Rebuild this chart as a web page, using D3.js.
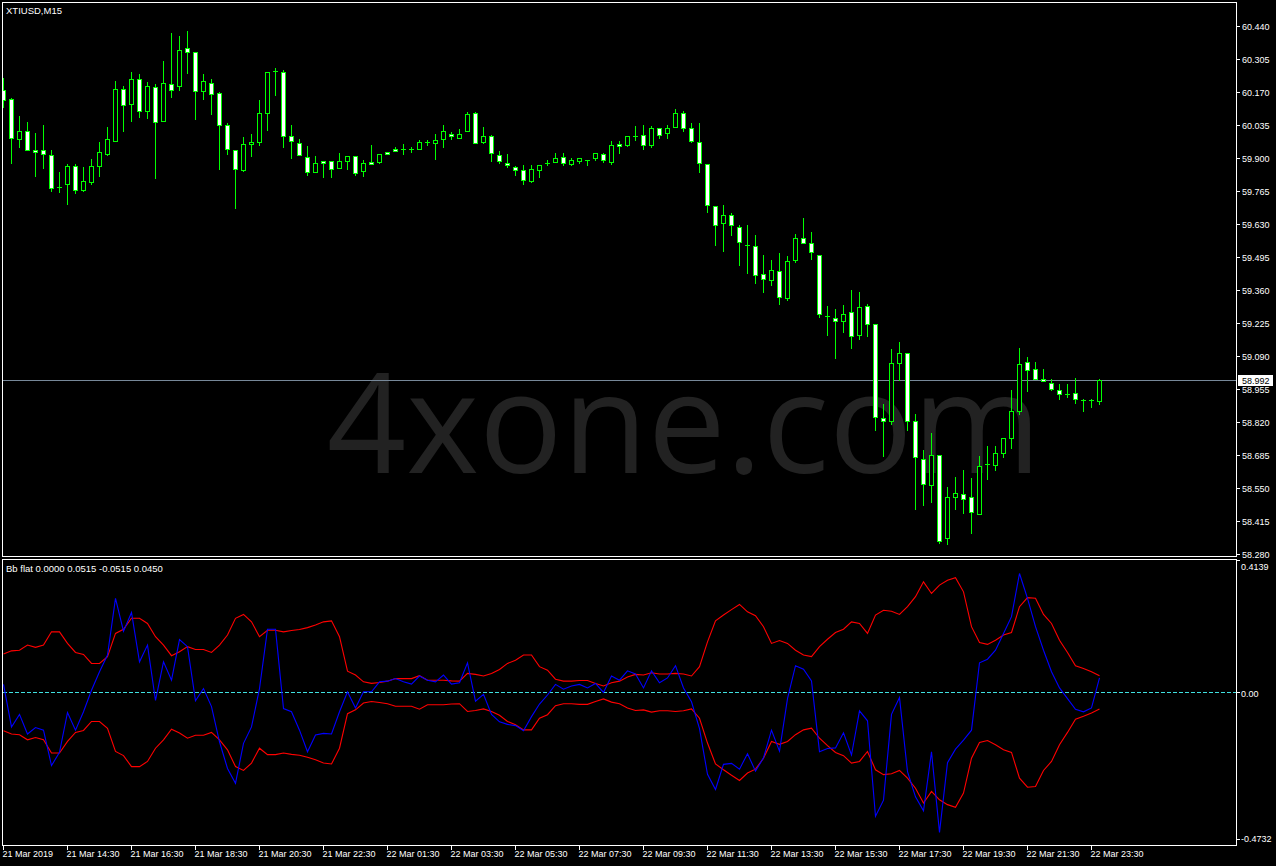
<!DOCTYPE html>
<html><head><meta charset="utf-8">
<script src="https://cdn.jsdelivr.net/npm/d3@7"></script>
<style>html,body{margin:0;padding:0;background:#000;overflow:hidden}</style>
</head><body><svg id="c" width="1276" height="866"></svg>
<script>
// ---- DATA ----
const symbolTitle = "XTIUSD,M15";
const indicatorTitle = "Bb flat 0.0000 0.0515 -0.0515 0.0450";
const open  = [60.178,60.140,59.977,60.009,59.932,59.932,59.911,59.781,59.792,59.866,59.770,59.803,59.869,59.918,59.968,60.181,60.120,60.222,60.091,60.189,60.050,60.202,60.193,60.349,60.332,60.173,60.206,60.165,60.034,59.932,59.852,59.956,59.964,60.083,60.255,60.251,59.989,59.960,59.903,59.842,59.887,59.887,59.858,59.887,59.907,59.846,59.882,59.882,59.923,59.936,59.936,59.936,59.936,59.964,59.960,59.977,59.997,59.981,60.009,60.083,59.964,59.989,59.911,59.878,59.862,59.850,59.805,59.850,59.878,59.882,59.903,59.874,59.887,59.891,59.899,59.915,59.882,59.956,59.952,59.992,59.993,59.952,60.021,60.001,60.026,60.083,60.021,59.964,59.874,59.702,59.633,59.666,59.617,59.545,59.539,59.425,59.402,59.437,59.329,59.481,59.572,59.551,59.502,59.252,59.244,59.232,59.269,59.177,59.293,59.220,58.835,58.823,59.060,59.101,58.823,58.667,58.561,58.684,58.344,58.512,58.524,58.512,58.442,58.648,58.643,58.692,58.753,58.864,59.064,59.036,58.995,58.978,58.950,58.933,58.937,58.909,58.909,58.905];
const high  = [60.226,60.144,60.072,60.047,60.001,60.035,59.932,59.843,59.874,59.874,59.863,59.895,59.965,60.027,60.215,60.193,60.252,60.244,60.210,60.202,60.297,60.411,60.399,60.420,60.332,60.244,60.222,60.169,60.042,59.932,59.986,59.997,60.137,60.251,60.267,60.259,60.034,59.977,59.949,59.907,59.887,59.887,59.919,59.907,59.907,59.891,59.953,59.915,59.923,59.944,59.956,59.945,59.972,59.975,59.997,60.035,60.005,60.017,60.087,60.087,60.026,59.993,59.927,59.915,59.866,59.870,59.870,59.870,59.891,59.919,59.919,59.899,59.899,59.891,59.919,59.919,59.968,59.968,59.989,60.030,60.034,60.030,60.021,60.034,60.099,60.091,60.042,60.042,59.874,59.702,59.707,59.674,59.625,59.625,59.584,59.502,59.481,59.510,59.498,59.588,59.653,59.596,59.502,59.293,59.281,59.297,59.359,59.351,59.302,59.220,58.892,59.117,59.146,59.101,58.852,58.704,58.774,58.684,58.553,58.594,58.622,58.590,58.680,58.721,58.721,58.753,58.950,59.122,59.085,59.064,59.036,58.995,58.974,58.974,58.999,58.913,58.913,58.995];
const low   = [60.110,59.881,59.944,59.932,59.828,59.860,59.766,59.762,59.713,59.756,59.766,59.795,59.828,59.912,59.968,60.012,60.053,60.068,60.064,59.819,60.050,60.151,60.177,60.247,60.061,60.143,60.081,59.856,59.915,59.694,59.846,59.907,59.952,60.013,60.158,59.944,59.899,59.911,59.829,59.842,59.824,59.824,59.858,59.854,59.829,59.825,59.874,59.878,59.915,59.927,59.915,59.925,59.936,59.953,59.897,59.946,59.977,59.981,60.009,59.960,59.960,59.887,59.878,59.862,59.829,59.792,59.801,59.821,59.870,59.882,59.870,59.870,59.878,59.870,59.891,59.882,59.874,59.919,59.948,59.972,59.936,59.944,59.981,59.981,60.026,60.009,59.964,59.842,59.678,59.545,59.521,59.584,59.464,59.431,59.390,59.353,59.382,59.304,59.320,59.473,59.551,59.486,59.248,59.175,59.083,59.189,59.124,59.161,59.171,58.789,58.682,58.811,58.991,58.787,58.465,58.479,58.494,58.324,58.320,58.463,58.446,58.365,58.442,58.586,58.622,58.676,58.712,58.852,58.946,58.995,58.986,58.950,58.913,58.921,58.897,58.864,58.880,58.892];
const close = [60.137,59.981,60.009,59.932,59.923,59.915,59.776,59.781,59.866,59.768,59.805,59.866,59.923,59.977,60.181,60.116,60.222,60.091,60.193,60.046,60.206,60.177,60.341,60.332,60.173,60.214,60.161,60.034,59.936,59.854,59.956,59.964,60.083,60.251,60.255,59.989,59.968,59.911,59.842,59.878,59.878,59.854,59.887,59.907,59.837,59.878,59.874,59.915,59.915,59.927,59.936,59.936,59.964,59.964,59.972,60.009,59.989,59.997,60.079,59.960,59.989,59.919,59.887,59.870,59.850,59.809,59.854,59.870,59.878,59.899,59.878,59.891,59.899,59.891,59.919,59.891,59.952,59.948,59.989,59.992,59.952,60.021,59.993,60.021,60.083,60.021,59.968,59.878,59.707,59.625,59.666,59.625,59.555,59.545,59.423,59.404,59.441,59.330,59.477,59.572,59.551,59.514,59.261,59.252,59.232,59.261,59.171,59.289,59.220,58.839,58.823,59.060,59.101,58.823,58.676,58.565,58.684,58.332,58.512,58.528,58.504,58.451,58.639,58.648,58.692,58.753,58.864,59.056,59.032,58.995,58.986,58.954,58.933,58.933,58.913,58.909,58.909,58.992];
const bbValue = [0.025,-0.107,-0.068,-0.129,-0.109,-0.117,-0.227,-0.186,-0.062,-0.117,-0.060,0.007,0.064,0.116,0.292,0.190,0.248,0.095,0.147,-0.025,0.095,0.038,0.164,0.142,-0.026,0.012,-0.044,-0.153,-0.236,-0.282,-0.158,-0.107,0.012,0.196,0.196,-0.050,-0.060,-0.117,-0.184,-0.132,-0.127,-0.129,-0.060,0.002,-0.048,0.002,0.002,0.033,0.035,0.043,0.033,0.026,0.051,0.038,0.033,0.054,0.026,0.030,0.092,-0.027,-0.006,-0.068,-0.091,-0.099,-0.103,-0.119,-0.075,-0.036,-0.008,0.025,0.010,0.020,0.025,0.014,0.028,0.000,0.051,0.038,0.067,0.057,0.014,0.067,0.030,0.045,0.083,0.014,-0.029,-0.112,-0.254,-0.301,-0.223,-0.220,-0.238,-0.190,-0.244,-0.203,-0.117,-0.182,-0.019,0.083,0.072,0.036,-0.184,-0.174,-0.172,-0.125,-0.194,-0.057,-0.088,-0.384,-0.334,-0.068,-0.016,-0.246,-0.324,-0.367,-0.184,-0.434,-0.218,-0.176,-0.148,-0.117,0.092,0.103,0.131,0.183,0.235,0.369,0.292,0.204,0.131,0.064,0.014,-0.019,-0.052,-0.060,-0.048,0.045];
const bbUpper = [0.119,0.129,0.131,0.147,0.140,0.147,0.188,0.188,0.152,0.124,0.118,0.090,0.090,0.111,0.183,0.196,0.230,0.230,0.214,0.173,0.147,0.114,0.126,0.142,0.133,0.133,0.124,0.147,0.178,0.230,0.242,0.219,0.173,0.193,0.193,0.188,0.192,0.195,0.201,0.209,0.219,0.222,0.173,0.066,0.054,0.033,0.028,0.031,0.035,0.043,0.043,0.043,0.052,0.038,0.038,0.038,0.036,0.035,0.059,0.056,0.051,0.059,0.071,0.090,0.100,0.116,0.116,0.080,0.069,0.041,0.035,0.035,0.037,0.037,0.028,0.020,0.030,0.035,0.048,0.056,0.054,0.061,0.057,0.057,0.059,0.057,0.051,0.080,0.157,0.222,0.240,0.257,0.273,0.250,0.238,0.204,0.152,0.161,0.152,0.131,0.116,0.111,0.142,0.165,0.186,0.196,0.219,0.214,0.183,0.240,0.255,0.252,0.242,0.266,0.297,0.343,0.307,0.333,0.348,0.356,0.312,0.204,0.155,0.149,0.162,0.178,0.186,0.266,0.294,0.292,0.242,0.214,0.162,0.124,0.083,0.074,0.064,0.0515];
const bbLower = [-0.119,-0.129,-0.131,-0.147,-0.140,-0.147,-0.188,-0.188,-0.152,-0.124,-0.118,-0.090,-0.090,-0.111,-0.183,-0.196,-0.230,-0.230,-0.214,-0.173,-0.147,-0.114,-0.126,-0.142,-0.133,-0.133,-0.124,-0.147,-0.178,-0.230,-0.242,-0.219,-0.173,-0.193,-0.193,-0.188,-0.192,-0.195,-0.201,-0.209,-0.219,-0.222,-0.173,-0.066,-0.054,-0.033,-0.028,-0.031,-0.035,-0.043,-0.043,-0.043,-0.052,-0.038,-0.038,-0.038,-0.036,-0.035,-0.059,-0.056,-0.051,-0.059,-0.071,-0.090,-0.100,-0.116,-0.116,-0.080,-0.069,-0.041,-0.035,-0.035,-0.037,-0.037,-0.028,-0.020,-0.030,-0.035,-0.048,-0.056,-0.054,-0.061,-0.057,-0.057,-0.059,-0.057,-0.051,-0.080,-0.157,-0.222,-0.240,-0.257,-0.273,-0.250,-0.238,-0.204,-0.152,-0.161,-0.152,-0.131,-0.116,-0.111,-0.142,-0.165,-0.186,-0.196,-0.219,-0.214,-0.183,-0.240,-0.255,-0.252,-0.242,-0.266,-0.297,-0.343,-0.307,-0.333,-0.348,-0.356,-0.312,-0.204,-0.155,-0.149,-0.162,-0.178,-0.186,-0.266,-0.294,-0.292,-0.242,-0.214,-0.162,-0.124,-0.083,-0.074,-0.064,-0.0515];
const timeLabels = ["21 Mar 2019","21 Mar 14:30","21 Mar 16:30","21 Mar 18:30","21 Mar 20:30","21 Mar 22:30","22 Mar 01:30","22 Mar 03:30","22 Mar 05:30","22 Mar 07:30","22 Mar 09:30","22 Mar 11:30","22 Mar 13:30","22 Mar 15:30","22 Mar 17:30","22 Mar 19:30","22 Mar 21:30","22 Mar 23:30"];
const timeLabelBars = [0,8,16,24,32,40,48,56,64,72,80,88,96,104,112,120,128,136];
const priceTicks = [60.440,60.305,60.170,60.035,59.900,59.765,59.630,59.495,59.360,59.225,59.090,58.955,58.820,58.685,58.550,58.415,58.280];
const priceRange = [58.280, 60.440];
const lastPrice = 58.992;
const subRange = [-0.4732, 0.4139];
const subTicks = ["0.4139","0.00","-0.4732"];
const watermark = "4xone.com";

// ---- DRAW ----
const svg = d3.select("#c");
const FONT = "Liberation Sans, Arial, sans-serif";
const n = close.length;
const x = d3.scaleLinear().domain([0, n - 1]).range([3.5, 3.5 + 8 * (n - 1)]);
const y = d3.scaleLinear().domain(priceRange).range([554, 26]);
const ys = d3.scaleLinear().domain(subRange).range([845, 559]);
const px = v => Math.round(v) + 0.5;

svg.append("rect").attr("width", 1276).attr("height", 866).attr("fill", "#000");

// watermark
svg.append("text").attr("x", 684).attr("y", 473).attr("text-anchor", "middle")
  .attr("font-family", "Open Sans, sans-serif").attr("font-size", 139)
  .attr("fill", "#222222").text(watermark);

const main = svg.append("g").attr("shape-rendering", "crispEdges");

// current price line
main.append("line").attr("x1", 3).attr("x2", 1236)
  .attr("y1", px(y(lastPrice))).attr("y2", px(y(lastPrice)))
  .attr("stroke", "#778899");

const bars = d3.range(n);
// wicks
main.selectAll("line.wick").data(bars).join("line").attr("class", "wick")
  .attr("x1", i => x(i)).attr("x2", i => x(i))
  .attr("y1", i => Math.round(y(high[i]))).attr("y2", i => Math.round(y(low[i])) + 1)
  .attr("stroke", "#00ff00");
// bodies
bars.forEach(i => {
  const top = Math.round(y(Math.max(open[i], close[i])));
  const bot = Math.round(y(Math.min(open[i], close[i])));
  if (bot - top < 1) {
    main.append("line").attr("x1", x(i) - 2.5).attr("x2", x(i) + 2.5)
      .attr("y1", top + 0.5).attr("y2", top + 0.5).attr("stroke", "#00ff00");
  } else {
    main.append("rect").attr("x", x(i) - 2).attr("y", top + 0.5)
      .attr("width", 4).attr("height", bot - top)
      .attr("fill", close[i] < open[i] ? "#ffffff" : "#000000")
      .attr("stroke", "#00ff00");
  }
});

// sub window
const sub = svg.append("g");
sub.append("line").attr("x1", 3).attr("x2", 1236)
  .attr("y1", px(ys(0))).attr("y2", px(ys(0)))
  .attr("stroke", "#3fe0e0").attr("stroke-dasharray", "4,2").attr("shape-rendering", "crispEdges");
const line = arr => d3.line().x((d, i) => x(i)).y(d => ys(d))(arr);
sub.append("path").attr("d", line(bbUpper)).attr("fill", "none").attr("stroke", "#ff0000").attr("stroke-width", 1.1);
sub.append("path").attr("d", line(bbLower)).attr("fill", "none").attr("stroke", "#ff0000").attr("stroke-width", 1.1);
sub.append("path").attr("d", line(bbValue)).attr("fill", "none").attr("stroke", "#0000ff").attr("stroke-width", 1.1);

// cover overflow left of pane
svg.append("rect").attr("x", 0).attr("y", 0).attr("width", 2).attr("height", 866).attr("fill", "#000");

// borders
const frame = svg.append("g").attr("fill", "none").attr("stroke", "#fff").attr("shape-rendering", "crispEdges");
frame.append("rect").attr("x", 2.5).attr("y", 2.5).attr("width", 1234).attr("height", 554);
frame.append("rect").attr("x", 2.5).attr("y", 559.5).attr("width", 1234).attr("height", 286);

// price axis
const axG = svg.append("g").attr("font-family", FONT).attr("font-size", 9).attr("fill", "#fff");
priceTicks.forEach(p => {
  const yy = Math.round(y(p));
  axG.append("line").attr("x1", 1237).attr("x2", 1240).attr("y1", yy + 0.5).attr("y2", yy + 0.5)
    .attr("stroke", "#fff").attr("shape-rendering", "crispEdges");
  axG.append("text").attr("x", 1242).attr("y", yy + 3.5).text(p.toFixed(3));
});
// last price label
const ly = Math.round(y(lastPrice));
axG.append("rect").attr("x", 1238).attr("y", ly - 5).attr("width", 35).attr("height", 11).attr("fill", "#fff");
axG.append("text").attr("x", 1242).attr("y", ly + 4).attr("fill", "#000").text(lastPrice.toFixed(3));

// sub axis
const subY = [ys(subRange[1]) + 1, ys(0), ys(subRange[0]) - 6];
const subTextY = [570, 697, 842];
subTicks.forEach((t, k) => {
  axG.append("line").attr("x1", 1237).attr("x2", 1240).attr("y1", px(subY[k])).attr("y2", px(subY[k]))
    .attr("stroke", "#fff").attr("shape-rendering", "crispEdges");
  axG.append("text").attr("x", 1241).attr("y", subTextY[k]).text(t);
});

// time axis
timeLabelBars.forEach((b, k) => {
  axG.append("line").attr("x1", x(b)).attr("x2", x(b)).attr("y1", 846).attr("y2", 850)
    .attr("stroke", "#fff").attr("shape-rendering", "crispEdges");
  axG.append("text").attr("x", x(b) - 1).attr("y", 857).text(timeLabels[k]);
});

// titles
axG.append("text").attr("x", 6).attr("y", 14).attr("font-size", 9.5).text(symbolTitle);
axG.append("text").attr("x", 6).attr("y", 572).attr("font-size", 9.5).text(indicatorTitle);
</script>
</body></html>
